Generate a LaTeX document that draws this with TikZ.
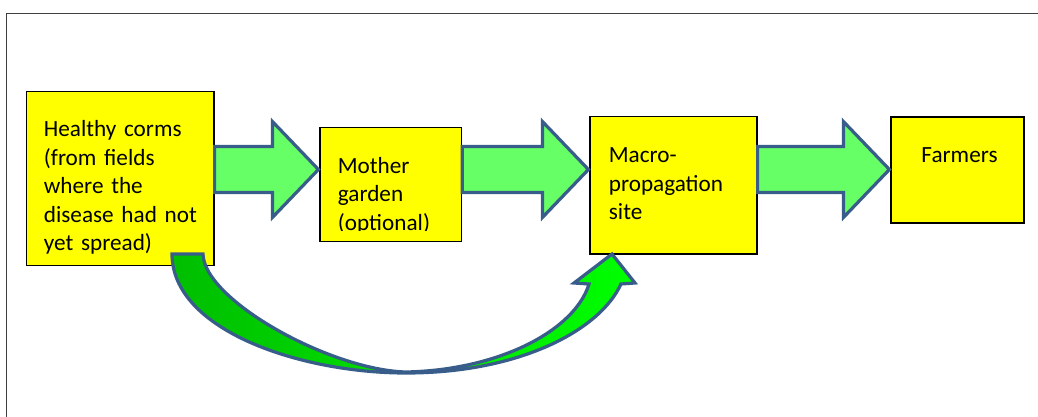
\documentclass[tikz,border=0pt]{standalone}
\usepackage{fontspec}
\setmainfont{Carlito}
\usepackage{tikz}
\usetikzlibrary{calc}

\definecolor{stageyellow}{RGB}{255,255,0}
\definecolor{arrowedge}{RGB}{56,93,138}
\definecolor{arrowgreen}{RGB}{102,255,102}
\definecolor{benddark}{RGB}{0,190,0}
\definecolor{bendlight}{RGB}{0,255,0}

\tikzset{
    stage/.style={draw=black, line width=1.2pt, fill=stageyellow, inner sep=0pt},
    stagetext/.style={inner sep=0pt, anchor=base west, align=left, text width=#1,
        font=\fontsize{23.2}{28.5}\selectfont},
    blockarrow/.style={draw=arrowedge, line width=3.2pt, fill=arrowgreen, miter limit=10},
    bendarrow/.style={draw=arrowedge, line width=3.2pt, left color=benddark, right color=bendlight},
    frame/.style={draw=black!75, line width=1.3pt}
}

% block arrow from the east side of #1 to the west side of #2
\newcommand{\flowarrow}[2]{%
    \path (#1.east |- flowline) coordinate (atail) ([xshift=-1pt]#2.west |- flowline) coordinate (ahead);
    \draw[blockarrow] ($(atail)+(0,-23)$) -- ($(ahead)+(-46,-23)$) -- ($(ahead)+(-46,-48)$) -- (ahead)
        -- ($(ahead)+(-46,48)$) -- ($(ahead)+(-46,23)$) -- ($(atail)+(0,23)$) -- cycle;}

\begin{document}
\begin{tikzpicture}[x=1pt, y=-1pt]
    \useasboundingbox (0,0) rectangle (1038,417);

    % Outer frame
    \draw[frame] (6.7,417) -- (6.7,13.3) -- (1038,13.3);

    % Draw the stages
    \node[stage, minimum width=187.3pt, minimum height=174pt] (healthy) at (120.35,178.7) {};
    \node[stage, minimum width=141.7pt, minimum height=114.4pt] (mother) at (390.85,184.5) {};
    \node[stage, minimum width=167pt, minimum height=137.3pt] (macro) at (673.5,185.35) {};
    \node[stage, minimum width=133pt, minimum height=106pt] (farmers) at (957.5,170) {};

    % Texts of the stages
    \node[stagetext=170pt] (healthytext) at ([shift={(17.6,45.5)}]healthy.north west)
        {Healthy corms\\(from fields\\where the\\disease had not\\yet spread)};
    \begin{scope}
        \clip (mother.north west) rectangle ([yshift=12pt]mother.south east);
        \node[stagetext=120pt] (mothertext) at ([shift={(18.3,46.5)}]mother.north west)
            {Mother\\garden\\(optional)};
    \end{scope}
    \node[stagetext=145pt] (macrotext) at ([shift={(19.3,46.8)}]macro.north west)
        {Macro-\\propagation\\site};
    \node[inner sep=0pt, anchor=base, font=\fontsize{23.2}{28.5}\selectfont] (farmerstext)
        at ([shift={(2,45.7)}]farmers.north) {Farmers};

    % Connect the stages
    \coordinate (flowline) at (0,169.5);
    \flowarrow{healthy}{mother}
    \flowarrow{mother}{macro}
    \flowarrow{macro}{farmers}

    % Curved arrow past the mother garden
    \draw[bendarrow] (172,254) -- (203,254) .. controls (204,300) and (330,370) .. (406,372)
        .. controls (500,370) and (575,330) .. (589,284) -- (574,283) -- (612,254) -- (635,283) -- (621,284)
        .. controls (600,330) and (520,373) .. (406,373) .. controls (300,373) and (172,330) .. (172,254) -- cycle;
\end{tikzpicture}
\end{document}
